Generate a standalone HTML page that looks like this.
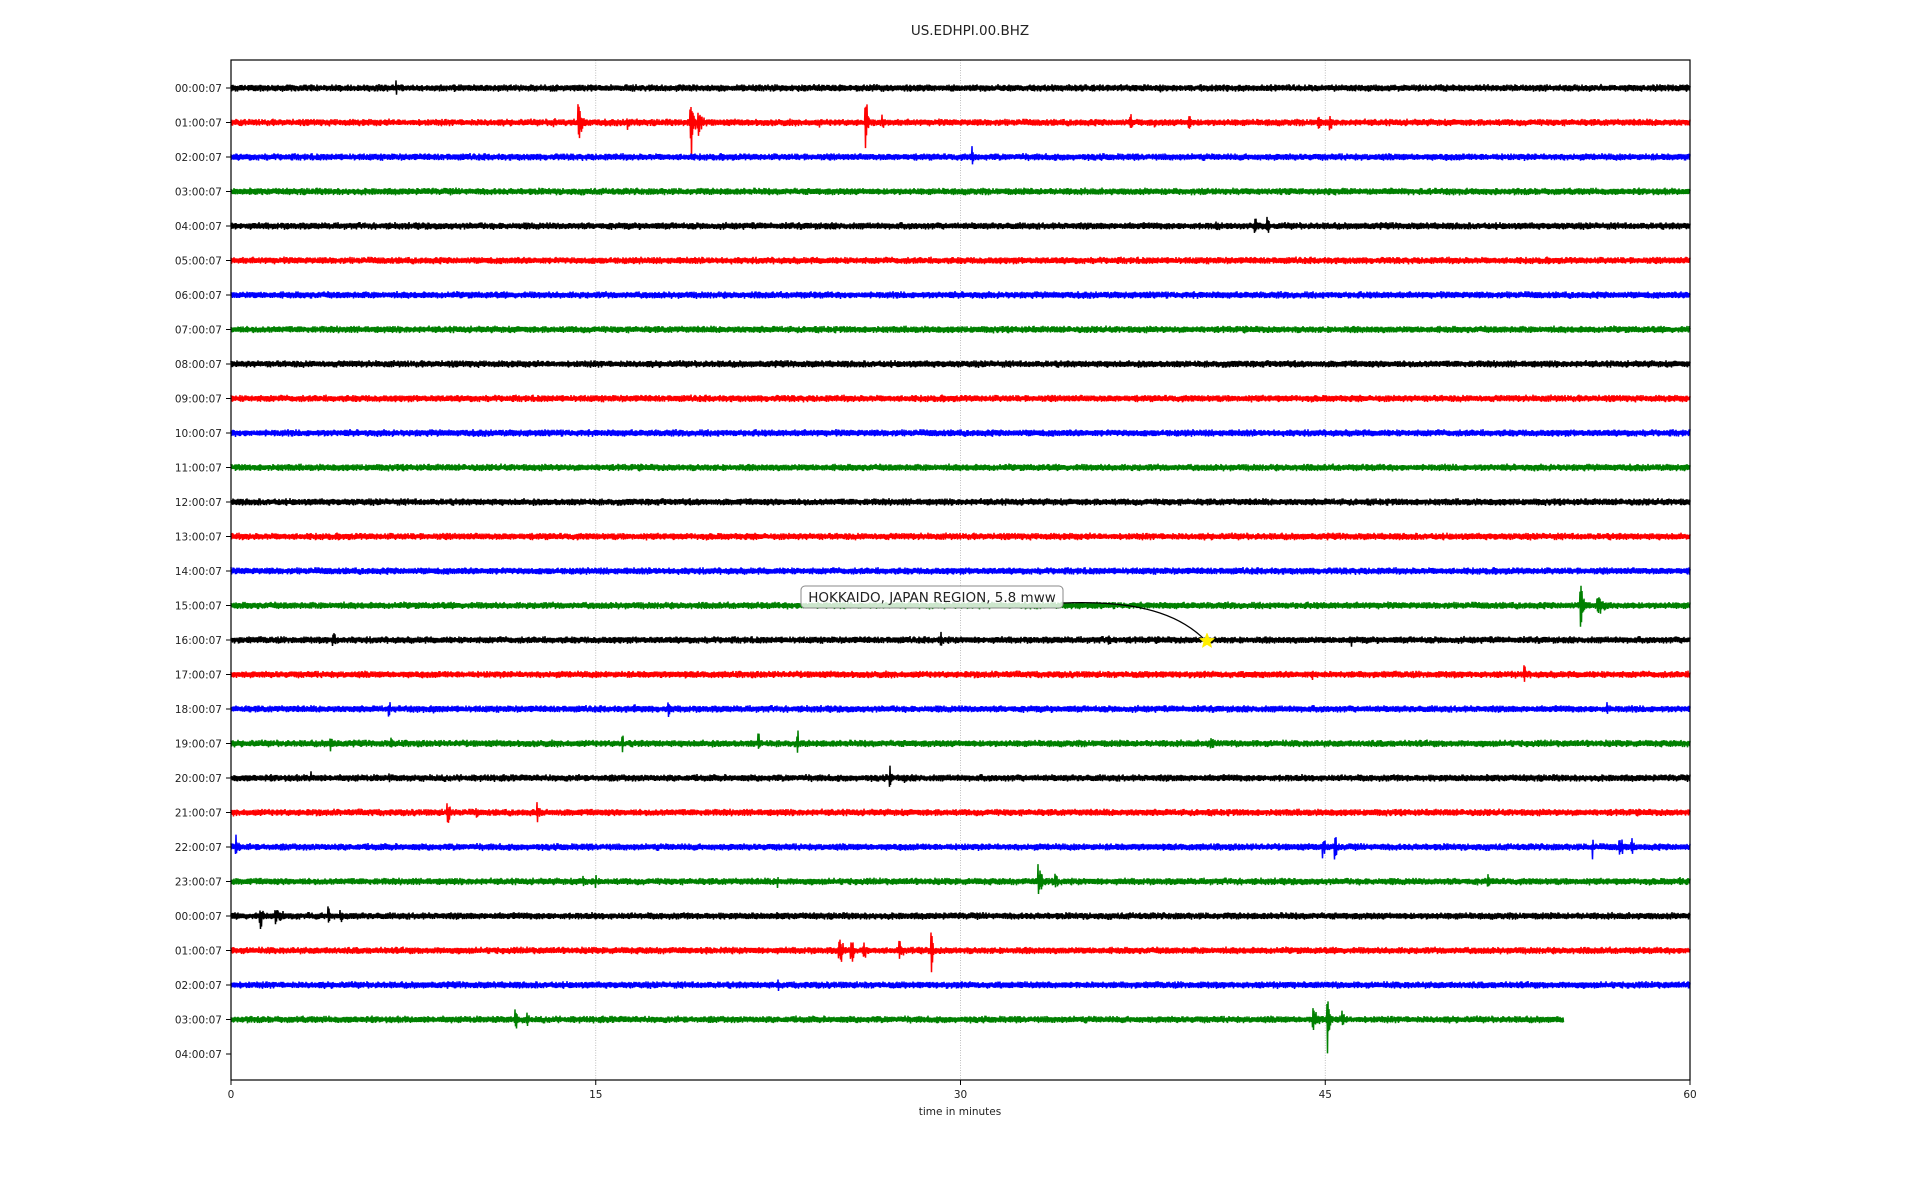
<!DOCTYPE html>
<html><head><meta charset="utf-8"><style>
html,body{margin:0;padding:0;background:#fff;}
svg{display:block;}
text{font-family:"DejaVu Sans","Liberation Sans",sans-serif;fill:#222;}
</style></head><body>
<svg id="s" width="1920" height="1200" xmlns="http://www.w3.org/2000/svg">
<text x="970" y="35" font-size="13.5" text-anchor="middle">US.EDHPI.00.BHZ</text>
<g id="grid"></g>
<g id="traces"></g>
<rect x="231" y="60" width="1459" height="1020" fill="none" stroke="#000" stroke-width="1.2"/>
<g id="ticks"></g>
<text x="960" y="1115" font-size="10.5" text-anchor="middle">time in minutes</text>
<path d="M1063 603 C1140 600 1180 615 1205 640" fill="none" stroke="#000" stroke-width="1.2"/>
<rect x="801" y="586" width="262" height="22" rx="4" fill="#fff" fill-opacity="0.8" stroke="#888" stroke-width="1"/>
<text x="932" y="602" font-size="13.5" text-anchor="middle">HOKKAIDO, JAPAN REGION, 5.8 mww</text>
<polygon id="star" fill="#ffee00" stroke="#ffee00" stroke-width="0.5"/>
</svg>
<script>
var NS="http://www.w3.org/2000/svg";
function X(m){return 231+m*1459/60;}
var y0=88,dy=34.5;
var seed=12345;function rnd(){seed=(seed*1103515245+12345)&0x7fffffff;return seed/0x7fffffff;}
var g=document.getElementById('grid');
[15,30,45].forEach(function(m){var l=document.createElementNS(NS,'line');l.setAttribute('x1',X(m));l.setAttribute('x2',X(m));l.setAttribute('y1',60);l.setAttribute('y2',1080);l.setAttribute('stroke','#b0b0b0');l.setAttribute('stroke-width','0.8');l.setAttribute('stroke-dasharray','1,1.5');g.appendChild(l);});
var t=document.getElementById('ticks');
var labs=['00','01','02','03','04','05','06','07','08','09','10','11','12','13','14','15','16','17','18','19','20','21','22','23','00','01','02','03','04'];
labs.forEach(function(h,i){var y=y0+i*dy;var l=document.createElementNS(NS,'line');l.setAttribute('x1',226);l.setAttribute('x2',231);l.setAttribute('y1',y);l.setAttribute('y2',y);l.setAttribute('stroke','#000');t.appendChild(l);
var tx=document.createElementNS(NS,'text');tx.setAttribute('x',222);tx.setAttribute('y',y+4);tx.setAttribute('font-size','10.5');tx.setAttribute('text-anchor','end');tx.textContent=h+':00:07';t.appendChild(tx);});
[0,15,30,45,60].forEach(function(m){var l=document.createElementNS(NS,'line');l.setAttribute('x1',X(m));l.setAttribute('x2',X(m));l.setAttribute('y1',1080);l.setAttribute('y2',1085);l.setAttribute('stroke','#000');t.appendChild(l);
var tx=document.createElementNS(NS,'text');tx.setAttribute('x',X(m));tx.setAttribute('y',1098);tx.setAttribute('font-size','10.5');tx.setAttribute('text-anchor','middle');tx.textContent=m;t.appendChild(tx);});
var cols=['#000','#f00','#00f','#008000'];
var ev={0:[[6.8,12,0.1],[38.2,8,0.15]],
1:[[13.2,8,1.2],[14.3,30,0.5],[16.3,12,0.4],[18.9,62,0.3],[19.2,24,0.5],[24.2,7,0.3],[26.1,34,0.3],[26.8,12,0.4],[37,12,0.3],[38,9,0.3],[39.4,14,0.3],[44.7,12,0.4],[45.2,12,0.3]],
2:[[30.5,17,0.15]],
4:[[40.5,7,1.0],[41,10,0.4],[42.1,26,0.25],[42.6,12,0.4]],
15:[[55.5,32,0.4],[56.2,12,1.2]],
16:[[4.2,10,0.8],[29.2,12,0.12],[36.1,17,0.2],[46.1,7,0.15]],
17:[[42.2,7,0.15],[44.5,10,0.2],[53.2,14,0.15]],
18:[[6.5,11,0.35],[8.3,12,0.2],[16.6,9,0.3],[18,10,0.35],[56.6,13,0.12]],
19:[[4.1,15,0.3],[6.6,11,0.15],[16.1,17,0.12],[21.7,22,0.12],[23.3,24,0.12],[40.3,13,0.35]],
20:[[3.3,9,0.15],[6.5,6,0.3],[27.1,20,0.2],[27.7,12,0.2]],
21:[[8.9,20,0.4],[10.1,9,0.3],[12.6,12,0.5]],
22:[[0.2,17,0.4],[44.9,20,0.35],[45.4,20,0.3],[56,22,0.12],[57.1,17,0.6],[57.6,15,0.4]],
23:[[14.5,11,0.3],[15,11,0.3],[22.5,9,0.15],[33.2,22,0.7],[33.9,13,0.4],[51.7,13,0.15],[59.6,9,0.15]],
24:[[1.2,22,0.3],[1.8,11,1.6],[4,22,0.15],[4.5,11,0.5]],
25:[[25,22,0.6],[25.5,32,0.25],[26,17,0.4],[27.5,12,0.6],[28.8,32,0.2]],
26:[[22.5,7,0.4]],
27:[[11.7,17,0.3],[12.2,11,0.3],[44.5,17,0.8],[45.1,42,0.25],[45.7,16,0.4]]};
var tr=document.getElementById('traces');
for(var r=0;r<28;r++){
 var y=y0+r*dy, end=(r==27)?54.8:60;var pts=[];var e=ev[r]||[];
 var n=Math.round((X(end)-231)*2);var sg=1;
 for(var i=0;i<=n;i++){var x=231+i/2;var m=(x-231)*60/1459;var a=4.0*(0.6+0.4*rnd());
  for(var k=0;k<e.length;k++){var d=m-e[k][0];if(d>-0.03&&d<e[k][2]){var f=d<0?1:Math.exp(-3*d/e[k][2]);a=Math.max(a,e[k][1]*f*(0.3+0.7*rnd()));}}
  sg=-sg;pts.push(x.toFixed(1)+','+(y+sg*a*(0.5+0.5*rnd())).toFixed(1));}
 var p=document.createElementNS(NS,'polyline');p.setAttribute('points',pts.join(' '));p.setAttribute('fill','none');p.setAttribute('stroke',cols[r%4]);p.setAttribute('stroke-width','1.5');tr.appendChild(p);}
var s=[],cx=1207,cy=641;for(var i=0;i<10;i++){var ang=-Math.PI/2+i*Math.PI/5;var rr=i%2?3.5:8;s.push((cx+rr*Math.cos(ang)).toFixed(1)+','+(cy+rr*Math.sin(ang)).toFixed(1));}
document.getElementById('star').setAttribute('points',s.join(' '));
</script>
</body></html>
